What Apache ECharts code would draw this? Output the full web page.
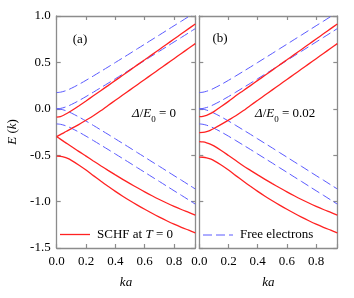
<!DOCTYPE html>
<html>
<head>
<meta charset="utf-8">
<script src="https://cdn.jsdelivr.net/npm/echarts@6/dist/echarts.min.js"></script>
<style>html,body{margin:0;padding:0;background:#fff;}#c{width:354px;height:298px;}</style>
</head>
<body>
<div id="c"></div>
<script>
// ---- data ----
const kValues = [0, 0.025, 0.05, 0.075, 0.1, 0.15, 0.2, 0.25, 0.3, 0.35, 0.4, 0.45, 0.5, 0.55, 0.6, 0.65, 0.7, 0.75, 0.8, 0.85, 0.9, 0.945];

// free electron bands (same in both panels)
const free1 = [0.175, 0.179, 0.189, 0.203, 0.221, 0.262, 0.307, 0.354, 0.402, 0.450, 0.499, 0.548, 0.597, 0.647, 0.696, 0.746, 0.795, 0.845, 0.895, 0.944, 0.994, 1.039];
const free2 = [0, 0.004, 0.014, 0.028, 0.046, 0.087, 0.132, 0.179, 0.227, 0.275, 0.324, 0.373, 0.422, 0.472, 0.521, 0.571, 0.620, 0.670, 0.720, 0.769, 0.819, 0.864];
const free3 = [0, -0.004, -0.014, -0.028, -0.046, -0.087, -0.132, -0.179, -0.227, -0.275, -0.324, -0.373, -0.422, -0.472, -0.521, -0.571, -0.620, -0.670, -0.720, -0.769, -0.819, -0.864];
const free4 = [-0.163, -0.167, -0.177, -0.191, -0.209, -0.250, -0.295, -0.342, -0.390, -0.438, -0.487, -0.536, -0.585, -0.635, -0.684, -0.734, -0.783, -0.833, -0.883, -0.932, -0.982, -1.027];

// SCHF bands, panel (a): Delta/E0 = 0
const schfA1 = [-0.09, -0.083, -0.067, -0.045, -0.021, 0.031, 0.085, 0.14, 0.195, 0.25, 0.306, 0.361, 0.417, 0.473, 0.528, 0.584, 0.64, 0.696, 0.752, 0.808, 0.864, 0.914];
const schfA2 = [-0.30, -0.278, -0.257, -0.235, -0.213, -0.170, -0.123, -0.075, -0.022, 0.036, 0.092, 0.148, 0.204, 0.26, 0.316, 0.372, 0.428, 0.484, 0.54, 0.596, 0.652, 0.702];
const schfA3 = [-0.30, -0.327, -0.354, -0.38, -0.406, -0.459, -0.51, -0.562, -0.613, -0.663, -0.712, -0.76, -0.806, -0.851, -0.895, -0.937, -0.977, -1.015, -1.051, -1.085, -1.117, -1.146];
const schfA4 = [-0.51, -0.512, -0.52, -0.535, -0.556, -0.605, -0.66, -0.72, -0.778, -0.835, -0.89, -0.942, -0.991, -1.038, -1.083, -1.126, -1.167, -1.206, -1.243, -1.277, -1.308, -1.336];

// SCHF bands, panel (b): Delta/E0 = 0.02
const schfB1 = [-0.085, -0.081, -0.07, -0.052, -0.03, 0.024, 0.08, 0.14, 0.195, 0.25, 0.306, 0.361, 0.417, 0.473, 0.528, 0.584, 0.64, 0.696, 0.752, 0.808, 0.864, 0.914];
const schfB2 = [-0.257, -0.255, -0.247, -0.232, -0.212, -0.168, -0.122, -0.075, -0.022, 0.036, 0.092, 0.148, 0.204, 0.26, 0.316, 0.372, 0.428, 0.484, 0.54, 0.596, 0.652, 0.702];
const schfB3 = [-0.354, -0.357, -0.366, -0.381, -0.40, -0.449, -0.503, -0.558, -0.613, -0.663, -0.712, -0.76, -0.806, -0.851, -0.895, -0.937, -0.977, -1.015, -1.051, -1.085, -1.117, -1.146];
const schfB4 = [-0.52, -0.522, -0.528, -0.54, -0.558, -0.605, -0.66, -0.72, -0.778, -0.835, -0.89, -0.942, -0.991, -1.038, -1.083, -1.126, -1.167, -1.206, -1.243, -1.277, -1.308, -1.336];

const xTicks = [0, 0.2, 0.4, 0.6, 0.8];
const yTicks = [-1.5, -1.0, -0.5, 0.0, 0.5, 1.0];

// ---- chart ----
const FONT = '"Liberation Serif", "Times New Roman", serif';
const AX = '#8c8c8c';
const RED = '#ff2222';
const BLUE = '#5a5aff';
const chart = echarts.init(document.getElementById('c'), null, {renderer: 'canvas'});

const grids = [
  {left: 56.7, top: 16, width: 138.6, height: 232},
  {left: 199.3, top: 16, width: 138, height: 232}
];

function xAx(g, pos, labels) {
  return {
    type: 'value', gridIndex: g, position: pos, min: 0, max: 0.945, interval: 0.2,
    axisLine: {show: true, onZero: false, lineStyle: {color: AX, width: 1.3}},
    axisTick: {show: true, inside: true, length: 4, lineStyle: {color: AX, width: 1.2}},
    splitLine: {show: false},
    axisLabel: {show: labels, margin: 7, color: '#000', fontFamily: FONT, fontSize: 13,
      formatter: v => (xTicks.some(t => Math.abs(t - v) < 1e-6) ? v.toFixed(1) : '')},
    name: labels ? '{i|ka}' : '', nameLocation: 'middle', nameGap: 28,
    nameTextStyle: {rich: {i: {fontFamily: FONT, fontSize: 13, fontStyle: 'italic', color: '#000'}}}
  };
}
function yAx(g, pos, labels) {
  return {
    type: 'value', gridIndex: g, position: pos, min: -1.5, max: 1.0, interval: 0.5,
    axisLine: {show: true, onZero: false, lineStyle: {color: AX, width: 1.3}},
    axisTick: {show: true, inside: true, length: 4, lineStyle: {color: AX, width: 1.2}},
    splitLine: {show: false},
    axisLabel: {show: labels, margin: 6, color: '#000', fontFamily: FONT, fontSize: 13,
      formatter: v => (yTicks.some(t => Math.abs(t - v) < 1e-6) ? v.toFixed(1) : '')}
  };
}

const xAxes = [xAx(0, 'bottom', true), xAx(0, 'top', false), xAx(1, 'bottom', true), xAx(1, 'top', false)];
const yAxes = [yAx(0, 'left', true), yAx(0, 'right', false), yAx(1, 'left', false), yAx(1, 'right', false)];

function pts(arr) { return kValues.map((k, i) => [k, arr[i]]); }
function line(arr, g, color, dashed) {
  return {
    type: 'line', xAxisIndex: g * 2, yAxisIndex: g * 2, data: pts(arr),
    showSymbol: false, symbol: 'none', smooth: 0.3, animation: false, clip: true,
    lineStyle: {color: color, width: dashed ? 1.0 : 1.3, type: dashed ? [9, 4] : 'solid'},
    z: dashed ? 2 : 3
  };
}

const series = [];
[0, 1].forEach(g => {
  [free1, free2, free3, free4].forEach(a => series.push(line(a, g, BLUE, true)));
});
[schfA1, schfA2, schfA3, schfA4].forEach(a => series.push(line(a, 0, RED, false)));
[schfB1, schfB2, schfB3, schfB4].forEach(a => series.push(line(a, 1, RED, false)));

const tStyle = {fontFamily: FONT, fontSize: 13, fill: '#000'};
const rich = {
  i: {fontFamily: FONT, fontSize: 13, fontStyle: 'italic'},
  n: {fontFamily: FONT, fontSize: 13},
  s: {fontFamily: FONT, fontSize: 9, verticalAlign: 'bottom', padding: [0, 0, -4, 0]}
};

chart.setOption({
  animation: false,
  backgroundColor: '#fff',
  grid: grids,
  xAxis: xAxes,
  yAxis: yAxes,
  series: series,
  graphic: [
    {type: 'text', x: 13, y: 132, rotation: Math.PI / 2,
      style: {text: '{i|E} {n|(}{i|k}{n|)}', rich: rich, align: 'center', verticalAlign: 'middle', fill: '#000'}},
    {type: 'text', x: 80, y: 40, style: Object.assign({text: '(a)', align: 'center', verticalAlign: 'middle'}, tStyle)},
    {type: 'text', x: 220, y: 39, style: Object.assign({text: '(b)', align: 'center', verticalAlign: 'middle'}, tStyle)},
    {type: 'text', x: 132, y: 114,
      style: {text: '{i|Δ}{n|/}{i|E}{s|0}{n| = 0}', rich: rich, align: 'left', verticalAlign: 'middle', fill: '#000'}},
    {type: 'text', x: 255, y: 114,
      style: {text: '{i|Δ}{n|/}{i|E}{s|0}{n| = 0.02}', rich: rich, align: 'left', verticalAlign: 'middle', fill: '#000'}},
    {type: 'line', shape: {x1: 60, y1: 234.5, x2: 90, y2: 234.5}, style: {stroke: RED, lineWidth: 1.3}},
    {type: 'text', x: 97, y: 234.5,
      style: {text: '{n|SCHF at }{i|T}{n| = 0}', rich: rich, align: 'left', verticalAlign: 'middle', fill: '#000'}},
    {type: 'line', shape: {x1: 203, y1: 235, x2: 233, y2: 235}, style: {stroke: BLUE, lineWidth: 1.0, lineDash: [9, 4]}},
    {type: 'text', x: 240, y: 235, style: Object.assign({text: 'Free electrons', align: 'left', verticalAlign: 'middle'}, tStyle)}
  ]
});
</script>
</body>
</html>
